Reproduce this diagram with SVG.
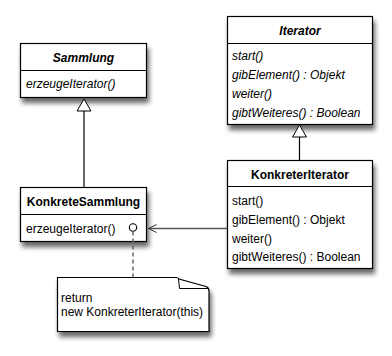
<svg xmlns="http://www.w3.org/2000/svg" width="392" height="356" viewBox="0 0 392 356">
<defs>
<filter id="sh" x="-10%" y="-10%" width="130%" height="140%">
<feGaussianBlur in="SourceAlpha" stdDeviation="2.5"/>
<feOffset dx="2" dy="5" result="b"/>
<feComponentTransfer><feFuncA type="linear" slope="0.6"/></feComponentTransfer>
<feMerge><feMergeNode/><feMergeNode in="SourceGraphic"/></feMerge>
</filter>
<marker id="open" markerWidth="10" markerHeight="10" refX="8" refY="4" orient="auto" markerUnits="userSpaceOnUse">
<path d="M0,0 L8,4 L0,8" fill="none" stroke="#333" stroke-width="1"/>
</marker>
</defs>
<style>
.box{fill:#fff;stroke:#000;stroke-width:1.2}
.div{stroke:#000;stroke-width:1}
text{font-family:"Liberation Sans",Arial,Helvetica,sans-serif;font-size:12px;fill:#000}
.t{font-weight:bold;text-anchor:middle}
.i{font-style:italic}
.ln{stroke:#000;stroke-width:1.2;fill:none}
.tri{fill:#fff;stroke:#000;stroke-width:1}
</style>
<rect width="392" height="356" fill="#fff"/>
<g id="Sammlung">
<rect class="box" x="20.5" y="43.5" width="126" height="54" filter="url(#sh)"/>
<line class="div" x1="20.5" y1="70.5" x2="146.5" y2="70.5"/>
<text class="t i" x="83.5" y="61.5">Sammlung</text>
<text class="i" x="26" y="87.5">erzeugeIterator()</text>
</g>
<g id="Iterator">
<rect class="box" x="227.5" y="16.5" width="145" height="108" filter="url(#sh)"/>
<line class="div" x1="227.5" y1="43.5" x2="372.5" y2="43.5"/>
<text class="t i" x="300" y="34.5">Iterator</text>
<text class="i" x="232" y="60">start()</text>
<text class="i" x="232" y="79">gibElement() : Objekt</text>
<text class="i" x="232" y="98">weiter()</text>
<text class="i" x="232" y="117">gibtWeiteres() : Boolean</text>
</g>
<g id="KonkreteSammlung">
<rect class="box" x="20.5" y="187.5" width="126" height="54" filter="url(#sh)"/>
<line class="div" x1="20.5" y1="214.5" x2="146.5" y2="214.5"/>
<text class="t" x="83.5" y="205.5">KonkreteSammlung</text>
<text x="26" y="232.5">erzeugeIterator()</text>
</g>
<g id="KonkreterIterator">
<rect class="box" x="227.5" y="160.5" width="145" height="108" filter="url(#sh)"/>
<line class="div" x1="227.5" y1="186.5" x2="372.5" y2="186.5"/>
<text class="t" x="300" y="178.5">KonkreterIterator</text>
<text x="232" y="205">start()</text>
<text x="232" y="224">gibElement() : Objekt</text>
<text x="232" y="243">weiter()</text>
<text x="232" y="261">gibtWeiteres() : Boolean</text>
</g>
<g id="note">
<path class="box" d="M57.5,277.5 H176 Q178,277.5 179,279 L206,286.5 Q209,287.5 209,291 V331.5 H57.5 Z" filter="url(#sh)"/>
<path d="M178.5,279 L179.5,288.5 H209" fill="none" stroke="#000" stroke-width="1"/>
<text x="61" y="302">return</text>
<text x="61" y="316">new KonkreterIterator(this)</text>
</g>
<g id="connectors">
<line class="ln" x1="84" y1="111" x2="84" y2="187.5"/>
<polygon class="tri" points="84,99 77,111 91,111"/>
<line class="ln" x1="299.5" y1="137" x2="299.5" y2="160.5"/>
<polygon class="tri" points="299.5,125 292.5,137 306.5,137"/>
<line x1="227" y1="228.5" x2="148.5" y2="228.5" stroke="#555" stroke-width="1.5" marker-end="url(#open)"/>
<circle cx="133" cy="227.5" r="3.7" fill="#fff" stroke="#000" stroke-width="1.1"/>
<line x1="133" y1="231.5" x2="133" y2="277.5" stroke="#666" stroke-width="1.5" stroke-dasharray="4,3"/>
</g>
</svg>
